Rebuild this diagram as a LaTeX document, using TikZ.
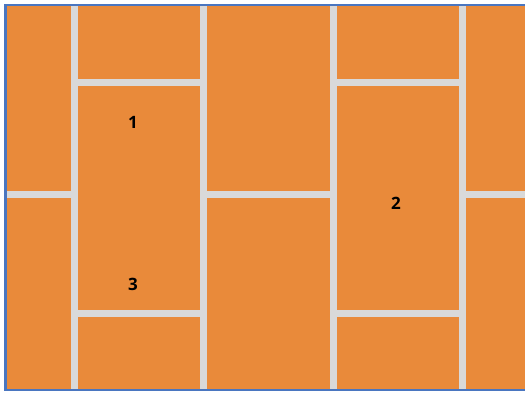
\documentclass[tikz,border=0pt]{standalone}
\usepackage{fontspec}
\setmainfont{Open Sans}
\usetikzlibrary{positioning}
\definecolor{tileOrange}{HTML}{E98A3A}
\definecolor{groutGrey}{HTML}{D9D9D9}
\definecolor{frameBlue}{HTML}{4A76C0}
\tikzset{
  grout/.style={draw=groutGrey, line width=7pt},
  frame/.style={draw=frameBlue, line width=2.5pt},
  tilenum/.style={font=\fontsize{17}{17}\selectfont\bfseries, text=black, inner sep=0pt},
}
\begin{document}
\begin{tikzpicture}[x=1pt, y=-1pt]
\useasboundingbox (0,0) rectangle (525,392);
% tiles
\fill[tileOrange] (5.5,5) rectangle (525,390);
% vertical joints
\foreach \x in {74.5, 203.5, 333.5, 462.5}{
  \draw[grout] (\x,5) -- (\x,390);
}
% horizontal joints, staggered per column
\foreach \xa/\xb/\y in {5.5/74.5/194.5, 74.5/203.5/82.5, 74.5/203.5/313.5,
                        203.5/333.5/194.5, 333.5/462.5/82.5, 333.5/462.5/313.5,
                        462.5/525/194.5}{
  \draw[grout] (\xa,\y) -- (\xb,\y);
}
% frame, open on the right
\draw[frame] (525,5) -- (5.5,5) -- (5.5,390) -- (525,390);
% tile numbers
\node[tilenum] (num1) at (133,122) {1};
\node[tilenum] (num2) at (396,203) {2};
\node[tilenum] (num3) at (133,284) {3};
\end{tikzpicture}
\end{document}
